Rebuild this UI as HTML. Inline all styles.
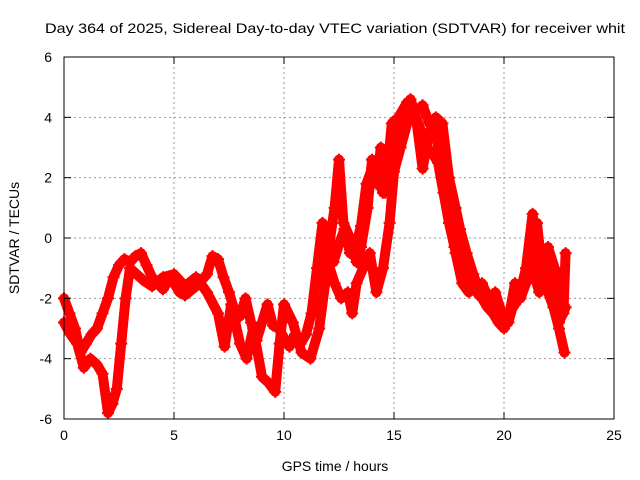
<!DOCTYPE html>
<html><head><meta charset="utf-8"><style>
body{margin:0;background:#fff;}
svg{display:block;font-family:"Liberation Sans",sans-serif;}
</style></head><body>
<svg id="chart" width="640" height="480">
<text x="45" y="33" font-size="14" textLength="580" lengthAdjust="spacingAndGlyphs">Day 364 of 2025, Sidereal Day-to-day VTEC variation (SDTVAR) for receiver whit</text>
<g id="grid"></g>
<g id="series"></g>
<rect x="64" y="57" width="550" height="362" fill="none" stroke="#000" stroke-width="1"/>
<g id="axes"></g>
<text x="335" y="471" font-size="14" text-anchor="middle">GPS time / hours</text>
<text transform="translate(19,238) rotate(-90)" font-size="14" text-anchor="middle">SDTVAR / TECUs</text>
</svg>
<script>
const xTicks=[0,5,10,15,20,25];
const yTicks=[-6,-4,-2,0,2,4,6];
const trace1T=[0,0.25,0.5,0.75,1,1.25,1.5,1.75,2,2.25,2.5,2.75,3,3.25,3.5,3.75,4,4.25,4.5,4.75,5,5.25,5.5,6,6.5,6.75,7,7.25,7.5,7.75,8,8.25,8.5,8.75,9,9.25,9.5,9.75,10,10.25,10.5,10.75,11,11.25,11.5,11.75,12,12.25,12.5,12.75,13,13.25,13.5,13.75,14,14.25,14.5,14.75,15,15.25,15.5,15.75,16,16.25,16.5,16.75,17,17.25,17.5,17.75,18,18.25,18.5,18.75,19,19.25,19.5,19.75,20,20.25,20.5,20.75,21,21.25,21.5,21.75,22,22.25,22.5,22.75];
const trace1V=[-2,-2.5,-3,-3.8,-3.5,-3.2,-3.0,-2.5,-2.0,-1.3,-0.9,-0.7,-0.8,-0.6,-0.5,-0.9,-1.3,-1.5,-1.7,-1.4,-1.5,-1.8,-1.9,-1.6,-1.2,-0.6,-0.7,-1.3,-1.8,-2.4,-2.6,-2.0,-2.8,-3.4,-2.8,-2.2,-2.9,-3.0,-3.3,-3.6,-3.2,-3.5,-3.2,-2.5,-1.0,0.5,0.2,-0.8,-0.2,0.3,-0.5,-0.3,0.4,1.8,2.3,2.0,1.5,2.2,3.0,3.5,4.2,4.6,4.0,3.5,3.0,2.8,2.5,1.5,0.5,-0.3,-0.8,-1.3,-1.6,-1.8,-2.0,-2.3,-2.5,-2.8,-3.0,-2.5,-1.5,-2.0,-1.5,-1.0,0.5,-1.2,-1.8,-2.3,-3.0,-3.8];
const trace2T=[0,0.3,0.6,0.9,1.2,1.5,1.75,2,2.2,2.4,2.6,2.8,3,3.3,3.6,4,4.5,5,5.5,6,6.5,7,7.3,7.6,8,8.3,8.6,9,9.3,9.6,9.8,10,10.4,10.8,11.2,11.6,12,12.3,12.6,12.9,13.1,13.3,13.6,13.9,14.2,14.5,14.8,15,15.3,15.6,16,16.3,16.6,16.9,17.2,17.5,17.8,18.1,18.4,18.7,19,19.3,19.6,19.9,20.2,20.5,20.8,21,21.3,21.6,21.9,22.2,22.5,22.8];
const trace2V=[-2.8,-3.2,-3.5,-4.3,-4.0,-4.2,-4.5,-5.8,-5.5,-5.0,-3.5,-2.0,-1.0,-1.2,-1.4,-1.6,-1.3,-1.2,-1.6,-1.3,-1.8,-2.5,-3.6,-2.2,-3.5,-4.0,-3.0,-4.6,-4.8,-5.1,-3.5,-2.2,-2.8,-3.8,-4.0,-3.0,-0.8,-1.5,-2.0,-1.8,-2.5,-1.5,-1.0,-0.5,-1.8,-1.0,0.5,2.2,3.0,3.8,4.2,4.4,3.8,3.5,2.0,1.0,-0.5,-1.5,-1.8,-1.6,-1.5,-2.0,-1.8,-2.5,-2.8,-2.0,-1.6,-1.0,0.8,-1.5,-0.5,-2.0,-2.8,-2.3];
const trace3T=[11.8,12,12.3,12.5,12.7,13,13.3,13.5,13.8,14,14.2,14.4,14.6,14.9,15.2,15.6,16,16.3,16.6,16.9,17.2,17.5,17.8,18,18.3,18.6,19,19.5,20,20.5,21,21.3,21.6,22,22.3,22.7,22.8];
const trace3V=[-1.5,-0.5,1.0,2.6,0.5,0.0,-0.8,-0.3,1.0,2.6,1.8,3.0,1.5,3.8,4.0,4.5,4.0,2.3,3.5,4.0,3.8,2.0,1.0,0.3,-0.5,-1.2,-2.0,-2.2,-2.7,-2.2,-1.5,-1.0,-1.8,-0.3,-1.0,-2.5,-0.5];
const NS='http://www.w3.org/2000/svg';
const X=t=>64+t*22, Y=v=>238-v*30.1667;
const grid=document.getElementById('grid'),axes=document.getElementById('axes'),ser=document.getElementById('series');
function mk(p,tag,a){const e=document.createElementNS(NS,tag);for(const k in a)e.setAttribute(k,a[k]);p.appendChild(e);return e;}
xTicks.forEach(t=>{
 if(t>0&&t<25){const g=mk(grid,'line',{x1:X(t),x2:X(t),y1:57,y2:419,stroke:'#999','stroke-dasharray':'2,3'});
 
 }
 mk(axes,'line',{x1:X(t),x2:X(t),y1:419,y2:412,stroke:'#000'});
 mk(axes,'line',{x1:X(t),x2:X(t),y1:57,y2:64,stroke:'#000'});
 const l=mk(axes,'text',{x:X(t),y:440,'font-size':14,'text-anchor':'middle'});l.textContent=t;
 
 
});
yTicks.forEach(v=>{
 if(v>-6&&v<6){const g=mk(grid,'line',{x1:64,x2:614,y1:Y(v),y2:Y(v),stroke:'#999','stroke-dasharray':'2,3'});
 
 }
 mk(axes,'line',{x1:64,x2:71,y1:Y(v),y2:Y(v),stroke:'#000'});
 mk(axes,'line',{x1:607,x2:614,y1:Y(v),y2:Y(v),stroke:'#000'});
 const l=mk(axes,'text',{x:52,y:Y(v)+5,'font-size':14,'text-anchor':'end'});l.textContent=v;
 
 
});
[[trace1T,trace1V],[trace2T,trace2V],[trace3T,trace3V]].forEach(([T,V],i)=>{
 const pts=T.map((t,j)=>X(t)+','+Y(V[j])).join(' ');
 const pl=mk(ser,'polyline',{points:pts,fill:'none',stroke:'#f00','stroke-width':10,'stroke-linejoin':'round','stroke-linecap':'round'});
 
 
 T.forEach((t,j)=>{
  const d=`M${X(t)-6},${Y(V[j])}h12M${X(t)},${Y(V[j])-6}v12`;
  const p=mk(ser,'path',{d:d,stroke:'#f00','stroke-width':2});
  
  
 });
});
</script>
</body></html>
